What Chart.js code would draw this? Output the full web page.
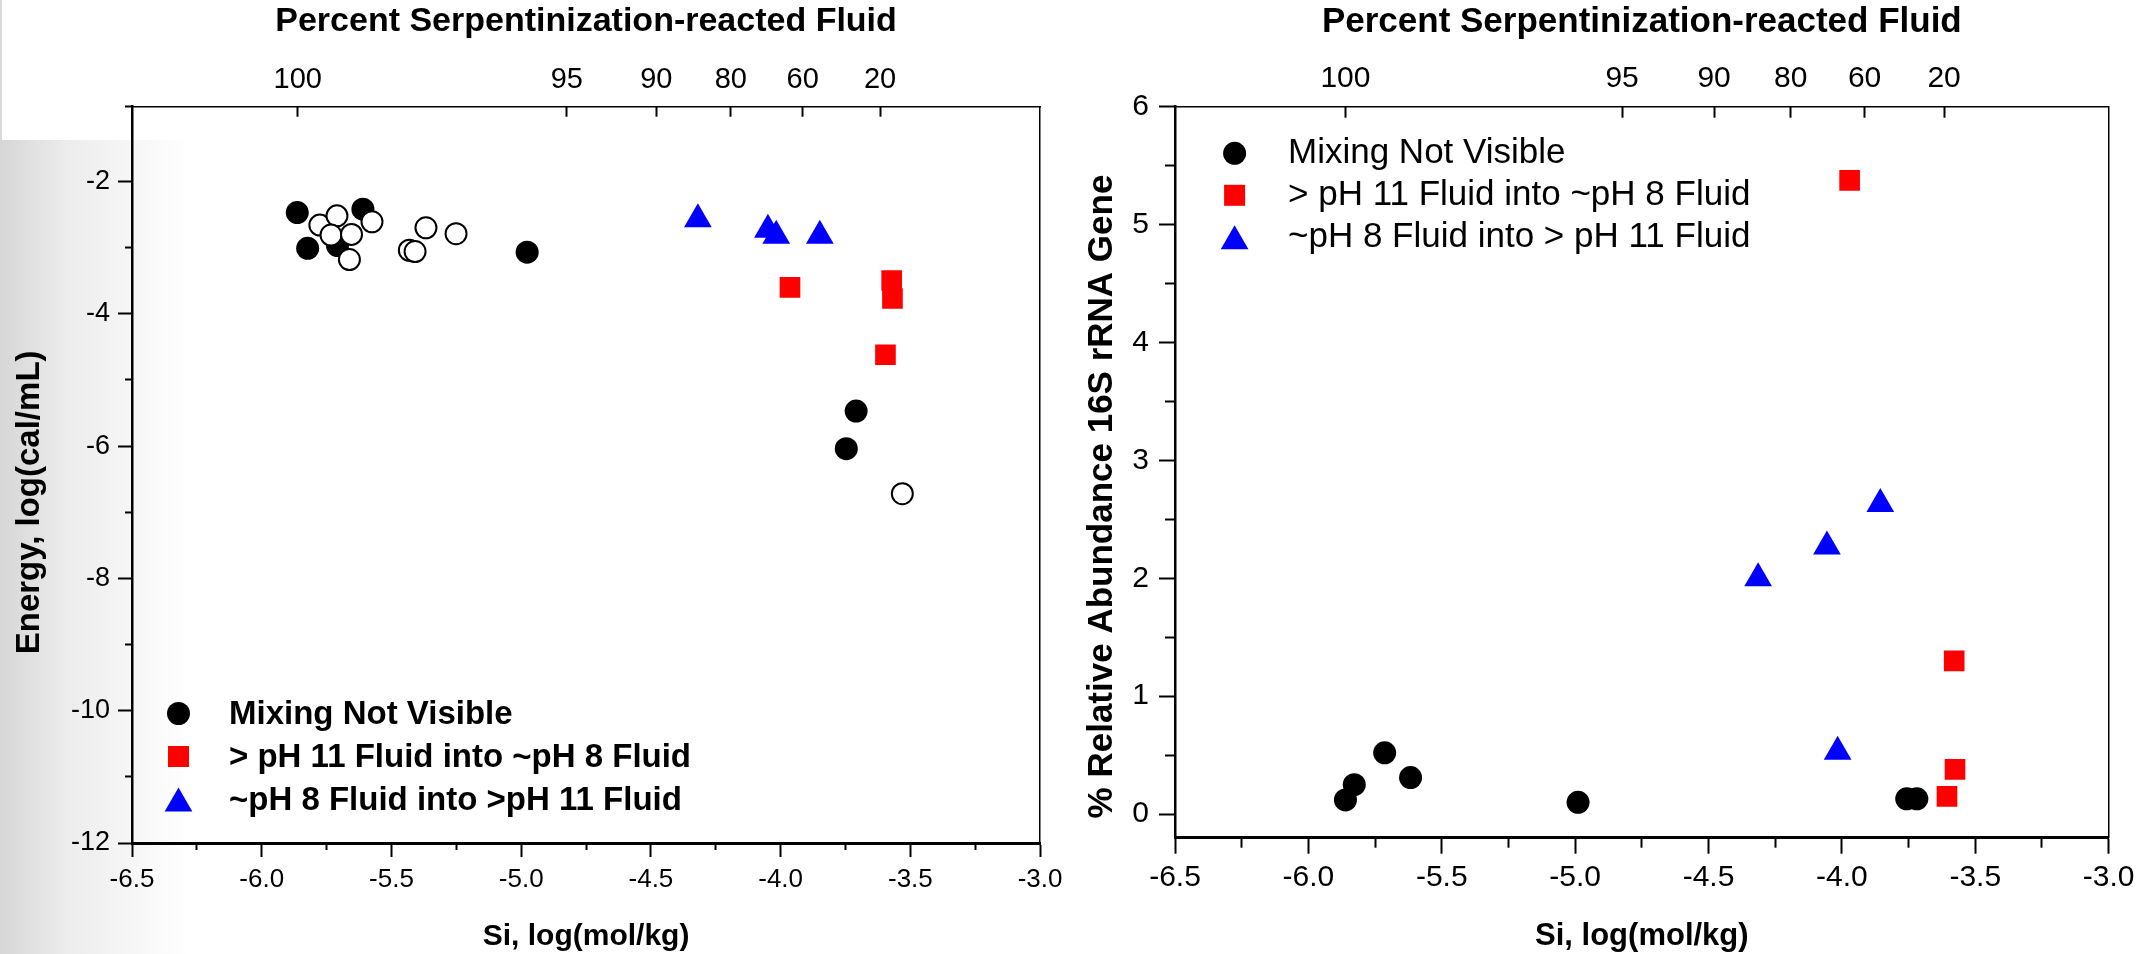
<!DOCTYPE html>
<html>
<head>
<meta charset="utf-8">
<script src="https://cdn.jsdelivr.net/npm/chart.js@4.4.1/dist/chart.umd.min.js"></script>
<style>
  html, body { margin: 0; padding: 0; background: #fff; }
  body { width: 2141px; height: 954px; position: relative; overflow: hidden; }
  #shade { position: absolute; left: 0; top: 140px; width: 190px; height: 814px;
           background: linear-gradient(to right, #d6d6d6 0%, #ececec 35%, rgba(255,255,255,0) 100%); }
  #edge { position: absolute; left: 0; top: 0; width: 2px; height: 140px; background: #dadada; }
  canvas { position: absolute; top: 0; }
  #energyChart { left: 0; }
  #abundChart { left: 1070px; }
</style>
</head>
<body>
<div id="shade"></div>
<div id="edge"></div>
<canvas id="energyChart" width="1070" height="954"></canvas>
<canvas id="abundChart" width="1071" height="954"></canvas>
<script>
const FONT = '"Liberation Sans", Arial, sans-serif';

// ---- left panel: energy vs Si ----
const energySiMixNotVisible = [-5.863, -5.610, -5.823, -5.708, -4.977, -3.709, -3.747];
const energyMixNotVisible   = [-2.47, -2.42, -3.01, -2.97, -3.07, -5.47, -6.04];
// open circles (no legend entry)
const energySiOpen = [-5.776, -5.710, -5.733, -5.654, -5.575, -5.662, -5.431, -5.409, -5.367, -5.251, -3.531];
const energyOpen   = [-2.66, -2.52, -2.81, -2.80, -2.61, -3.18, -3.04, -3.06, -2.70, -2.79, -6.72];
const energySiAlkIntoNeut = [-3.964, -3.572, -3.569, -3.596];
const energyAlkIntoNeut   = [-3.60, -3.50, -3.77, -4.62];
const energySiNeutIntoAlk = [-4.319, -4.049, -4.017, -3.849];
const energyNeutIntoAlk   = [-2.57, -2.73, -2.82, -2.82];

// ---- right panel: % relative abundance 16S rRNA gene vs Si ----
const abundSiMixNotVisible = [-5.861, -5.828, -5.714, -5.617, -4.989, -3.757, -3.719];
const abundMixNotVisible   = [0.12, 0.25, 0.52, 0.31, 0.10, 0.13, 0.13];
const abundSiAlkIntoNeut = [-3.971, -3.579, -3.576, -3.606];
const abundAlkIntoNeut   = [5.375, 1.30, 0.38, 0.15];
const abundSiNeutIntoAlk = [-4.314, -4.056, -3.856, -4.016];
const abundNeutIntoAlk   = [2.00, 2.27, 2.63, 0.53];

// axes
const siTicks = [-6.5, -6.0, -5.5, -5.0, -4.5, -4.0, -3.5, -3.0];
const siMinorTicks = [-6.25, -5.75, -5.25, -4.75, -4.25, -3.75, -3.25];
const pctTickSi = [-5.861, -4.824, -4.479, -4.192, -3.915, -3.617];
const pctTickLabels = ['100', '95', '90', '80', '60', '20'];
const energyTicks = [-12, -10, -8, -6, -4, -2];
const energyMinorTicks = [-11, -9, -7, -5, -3, -0.87];
const abundTicks = [0, 1, 2, 3, 4, 5, 6];
const abundMinorTicks = [0.5, 1.5, 2.5, 3.5, 4.5, 5.5];

const legendLeft = ['Mixing Not Visible', '> pH 11 Fluid into ~pH 8 Fluid', '~pH 8 Fluid into >pH 11 Fluid'];
const legendRight = ['Mixing Not Visible', '> pH 11 Fluid into ~pH 8 Fluid', '~pH 8 Fluid into > pH 11 Fluid'];

const zip = (xs, ys) => xs.map((x, i) => ({ x: x, y: ys[i] }));
const asTicks = vals => vals.map(v => ({ value: v }));

// draws legend rows using the style of the listed datasets
const markerLegend = {
  id: 'markerLegend',
  afterDraw(chart, args, o) {
    if (!o || !o.rows) return;
    const ctx = chart.ctx;
    ctx.save();
    o.rows.forEach((idx, i) => {
      const ds = chart.data.datasets[idx];
      const y = o.y + i * o.dy;
      ctx.fillStyle = ds.pointBackgroundColor;
      ctx.beginPath();
      if (ds.pointStyle === 'circle') {
        ctx.arc(o.x, y, 11.5, 0, Math.PI * 2);
      } else if (ds.pointStyle === 'rect') {
        ctx.rect(o.x - 10.5, y - 10.5, 21, 21);
      } else {
        const r = 16, yc = y + 4;
        ctx.moveTo(o.x, yc - r);
        ctx.lineTo(o.x + r * 0.866, yc + r / 2);
        ctx.lineTo(o.x - r * 0.866, yc + r / 2);
        ctx.closePath();
      }
      ctx.fill();
      ctx.fillStyle = '#000';
      ctx.font = o.font;
      ctx.textAlign = 'left';
      ctx.textBaseline = 'middle';
      ctx.fillText(ds.label, o.textX, y + o.textDy);
    });
    ctx.restore();
  }
};

function makePanel(id, p) {
  const datasets = p.series.map(s => ({
    label: s.label,
    data: s.data,
    xAxisID: 'x',
    yAxisID: 'y',
    pointStyle: s.style,
    pointRadius: s.r,
    pointHoverRadius: s.r,
    pointBackgroundColor: s.fill,
    pointBorderColor: s.stroke || s.fill,
    pointBorderWidth: s.bw || 0,
    showLine: false,
    order: s.order === undefined ? 1 : s.order
  }));
  const bold = size => ({ family: FONT, size: size, weight: 'bold', lineHeight: 1 });
  const plain = size => ({ family: FONT, size: size });
  return new Chart(document.getElementById(id), {
    type: 'scatter',
    data: { datasets: datasets },
    options: {
      responsive: false,
      animation: false,
      events: [],
      layout: { padding: { left: 0, top: 0, bottom: 0, right: p.padRight } },
      plugins: {
        legend: { display: false },
        tooltip: { enabled: false },
        markerLegend: p.legend
      },
      scales: {
        x: {
          type: 'linear', position: 'bottom', weight: 1, min: -6.5, max: -3.0,
          afterBuildTicks: s => { s.ticks = asTicks(siTicks); },
          ticks: { autoSkip: false, maxRotation: 0, color: '#000', font: plain(p.tick),
                   padding: p.xTickPad, callback: v => v.toFixed(1) },
          grid: { drawOnChartArea: false, tickLength: p.major, tickColor: '#000', tickWidth: 2 },
          border: { display: true, color: '#000', width: 3 },
          title: { display: true, text: 'Si, log(mol/kg)', color: '#000', font: bold(p.xTitle),
                   padding: { top: 0, bottom: p.xTitlePad } },
          afterFit: s => { s.height = p.bottomH; }
        },
        xMinor: {
          type: 'linear', position: 'bottom', weight: 0, min: -6.5, max: -3.0,
          afterBuildTicks: s => { s.ticks = asTicks(siMinorTicks); },
          ticks: { display: false },
          grid: { drawOnChartArea: false, tickLength: p.minor, tickColor: '#000', tickWidth: 2 },
          border: { display: false },
          afterFit: s => { s.height = 0; }
        },
        xTop: {
          type: 'linear', position: 'top', min: -6.5, max: -3.0,
          afterBuildTicks: s => { s.ticks = asTicks(pctTickSi); },
          ticks: { autoSkip: false, maxRotation: 0, color: '#000', font: plain(p.topTick),
                   padding: p.topTickPad, callback: (v, i) => pctTickLabels[i] },
          grid: { drawOnChartArea: false, tickLength: -p.inner, tickColor: '#000', tickWidth: 2 },
          border: { display: true, color: '#000', width: 1.5 },
          title: { display: true, text: 'Percent Serpentinization-reacted Fluid', color: '#000',
                   font: bold(p.topTitle), padding: { top: p.topTitlePad, bottom: 0 } },
          afterFit: s => { s.height = p.topH; }
        },
        y: {
          type: 'linear', position: 'left', weight: 1, min: p.yMin, max: p.yMax,
          afterBuildTicks: s => { s.ticks = asTicks(p.yTicks); },
          ticks: { autoSkip: false, color: '#000', font: plain(p.yTick), padding: p.yTickPad,
                   callback: v => String(v) },
          grid: { drawOnChartArea: false, tickLength: p.major, tickColor: '#000', tickWidth: 2 },
          border: { display: true, color: '#000', width: 2.5 },
          title: { display: true, text: p.yTitleText, color: '#000', font: bold(p.yTitle),
                   padding: { top: p.yTitlePad, bottom: 0 } },
          afterFit: s => { s.width = p.leftW; }
        },
        yMinor: {
          type: 'linear', position: 'left', weight: 0, min: p.yMin, max: p.yMax,
          afterBuildTicks: s => { s.ticks = asTicks(p.yMinorTicks); },
          ticks: { display: false },
          grid: { drawOnChartArea: false, tickLength: p.minor, tickColor: '#000', tickWidth: 2 },
          border: { display: false },
          afterFit: s => { s.width = 0; }
        },
        yRight: {
          type: 'linear', position: 'right', min: p.yMin, max: p.yMax,
          ticks: { display: false },
          grid: { drawOnChartArea: false, drawTicks: false },
          border: { display: true, color: '#000', width: 1.5 },
          afterFit: s => { s.width = 0; }
        }
      }
    },
    plugins: [markerLegend]
  });
}

makePanel('energyChart', {
  series: [
    { label: legendLeft[0], data: zip(energySiMixNotVisible, energyMixNotVisible), style: 'circle', r: 11.5, fill: '#000' },
    { label: legendLeft[1], data: zip(energySiAlkIntoNeut, energyAlkIntoNeut), style: 'rect', r: 14.6, fill: '#ff0000' },
    { label: legendLeft[2], data: zip(energySiNeutIntoAlk, energyNeutIntoAlk), style: 'triangle', r: 16, fill: '#0000ff' },
    { label: 'open', data: zip(energySiOpen, energyOpen), style: 'circle', r: 10.5, fill: '#fff', stroke: '#000', bw: 2, order: 0 }
  ],
  legend: { rows: [0, 1, 2], x: 178.5, y: 713.5, dy: 43, textX: 229, textDy: 1.5,
            font: 'bold 33px ' + FONT },
  padRight: 28, leftW: 132, bottomH: 111, topH: 106.7,
  yMin: -12, yMax: -0.87, yTicks: energyTicks, yMinorTicks: energyMinorTicks,
  yTitleText: 'Energy, log(cal/mL)      ',
  tick: 26, xTickPad: 7.5, major: 14, minor: 7, inner: 10,
  xTitle: 30, xTitlePad: 2.3,
  topTick: 29, topTickPad: 19.5, topTitle: 34, topTitlePad: 5,
  yTick: 27, yTickPad: 8, yTitle: 33, yTitlePad: 13
});

makePanel('abundChart', {
  series: [
    { label: legendRight[0], data: zip(abundSiMixNotVisible, abundMixNotVisible), style: 'circle', r: 11.5, fill: '#000' },
    { label: legendRight[1], data: zip(abundSiAlkIntoNeut, abundAlkIntoNeut), style: 'rect', r: 14.6, fill: '#ff0000' },
    { label: legendRight[2], data: zip(abundSiNeutIntoAlk, abundNeutIntoAlk), style: 'triangle', r: 16, fill: '#0000ff' }
  ],
  legend: { rows: [0, 1, 2], x: 164.6, y: 153.3, dy: 42, textX: 218, textDy: 0,
            font: '35px ' + FONT },
  padRight: 30.5, leftW: 105, bottomH: 116.3, topH: 106.7,
  yMin: -0.2, yMax: 6, yTicks: abundTicks, yMinorTicks: abundMinorTicks,
  yTitleText: '% Relative Abundance 16S rRNA Gene     ',
  tick: 30, xTickPad: 6.5, major: 16, minor: 10, inner: 11,
  xTitle: 31, xTitlePad: 1.8,
  topTick: 30, topTickPad: 20.5, topTitle: 35, topTitlePad: 4.5,
  yTick: 30, yTickPad: 10, yTitle: 35, yTitlePad: 14.5
});
</script>
</body>
</html>
